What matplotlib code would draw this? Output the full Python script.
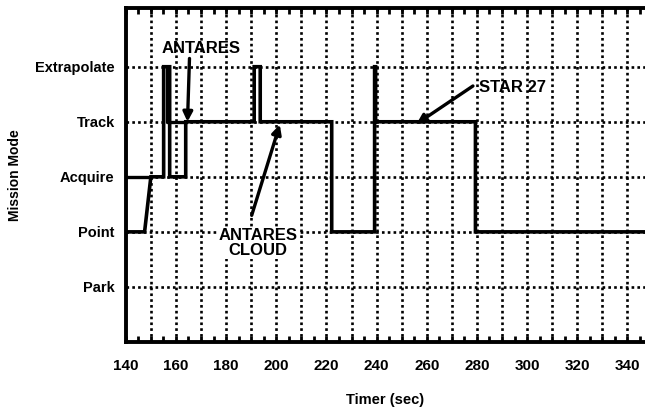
import numpy as np
import matplotlib
matplotlib.use("Agg")
import matplotlib.pyplot as plt

plt.rcParams['font.family'] = ['Liberation Sans', 'DejaVu Sans']
plt.rcParams['font.weight'] = 'bold'

# mission modes, bottom to top
modes = ["Park", "Point", "Acquire", "Track", "Extrapolate"]
level = {m: i + 1 for i, m in enumerate(modes)}

# main mode trace (time in sec, mode)
main_time = [140, 147.5, 150, 155.1, 155.1, 157.5, 157.5, 163.9, 163.9,
             191.2, 191.2, 193.6, 193.6, 222.1, 222.1, 239.2, 239.2,
             239.6, 239.6, 279.4, 279.4, 348]
main_mode = ["Point", "Point", "Acquire", "Acquire", "Extrapolate", "Extrapolate",
             "Acquire", "Acquire", "Track", "Track", "Extrapolate", "Extrapolate",
             "Track", "Track", "Point", "Point", "Extrapolate", "Extrapolate",
             "Track", "Track", "Point", "Point"]

# overlapping pieces of the second pass
alt_time = [140, 150, np.nan, 156.3, 156.3, 163.9]
alt_mode = ["Acquire", "Acquire", None, "Extrapolate", "Track", "Track"]

x_ticks = list(range(140, 341, 20))

fig = plt.figure(figsize=(6.45, 4.12), dpi=100)
ax = fig.add_axes([0.195, 0.17, 0.805, 0.811])

ax.set_xlim(140, 347)
ax.set_ylim(0, 6.07)

# dotted grid
for t in np.arange(150, 347, 10):
    ax.axvline(t, color='black', lw=1.9, ls=(0, (1, 1.2)), zorder=1)
for m in modes:
    ax.axhline(level[m], color='black', lw=1.9, ls=(0, (1, 1.2)), zorder=1)

ax.plot(main_time, [level[m] for m in main_mode], color='black', lw=2.6,
        solid_joinstyle='miter', zorder=3)
alt_y = [level[m] if m else np.nan for m in alt_mode]
ax.plot(alt_time, alt_y, color='black', lw=2.4, zorder=3)

# labels with arrows
arrow = dict(arrowstyle='-|>', color='black', lw=2.4, mutation_scale=14,
             shrinkA=0, shrinkB=0)
ax.text(170.0, 5.33, "ANTARES", ha='center', va='center', fontsize=12,
        fontweight='bold')
ax.annotate("", xy=(164.6, 4.0), xytext=(165.4, 5.15), arrowprops=arrow)
ax.text(192.8, 1.8, "ANTARES\nCLOUD", ha='center', va='center', fontsize=12,
        fontweight='bold', linespacing=1.0, zorder=4,
        bbox=dict(boxstyle='square,pad=0.05', fc='white', ec='none'))
ax.annotate("", xy=(201.4, 3.95), xytext=(190.2, 2.3), arrowprops=arrow)
ax.text(280.8, 4.62, "STAR 27", ha='left', va='center', fontsize=12,
        fontweight='bold')
ax.annotate("", xy=(255.9, 3.96), xytext=(278.4, 4.65), arrowprops=arrow)

ax.set_yticks([level[m] for m in modes])
ax.set_yticklabels(modes, fontsize=10.5, fontweight='bold')
ax.set_xticks(x_ticks)
ax.set_xticklabels([str(t) for t in x_ticks], fontsize=11, fontweight='bold')
ax.set_xticks(np.arange(140, 347, 5), minor=True)
ax.tick_params(axis='y', length=0, pad=8)
ax.tick_params(axis='x', which='both', direction='in', length=4, width=2,
               top=True, pad=12)

for side in ['left', 'top', 'bottom']:
    ax.spines[side].set_linewidth(2.8)
ax.spines['right'].set_visible(False)

ax.set_xlabel("Timer (sec)", fontsize=10.5, fontweight='bold', labelpad=15)
ax.set_ylabel("Mission Mode", fontsize=10, fontweight='bold')
ax.yaxis.set_label_coords(-0.2, 0.5)

fig.savefig("out.png", dpi=100)
